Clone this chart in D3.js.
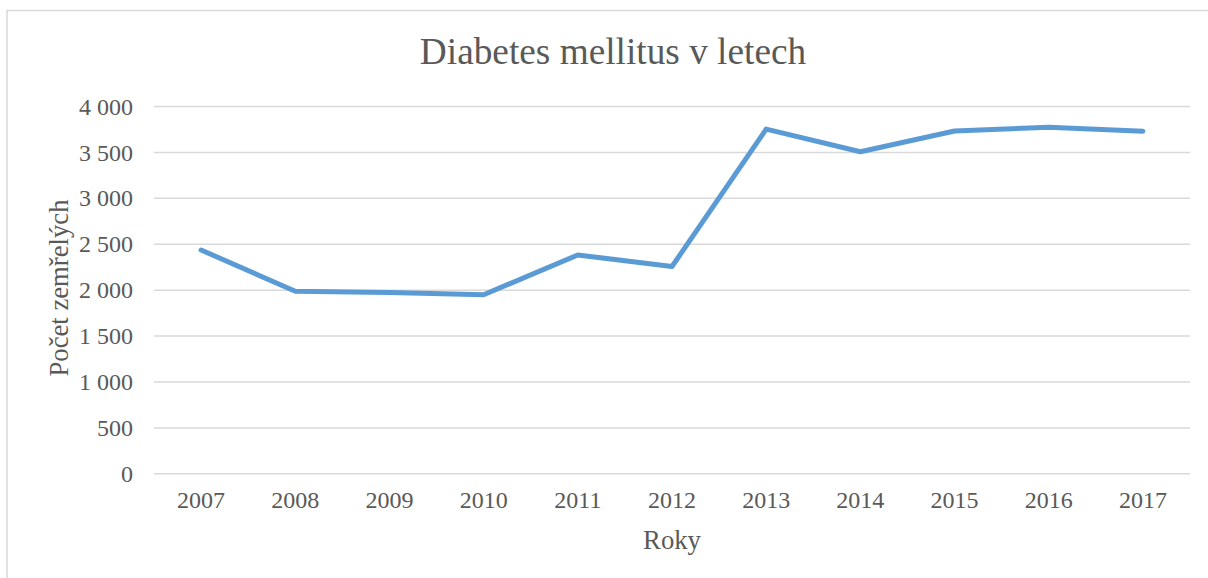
<!DOCTYPE html>
<html><head><meta charset="utf-8">
<script src="https://cdn.jsdelivr.net/npm/d3@7"></script>
<style>body{margin:0;background:#fff;} svg{display:block;} svg text{font-family:"Liberation Serif","Times New Roman",serif;}</style>
</head><body>
<svg id="c" width="1208" height="578"></svg>
<script>
const years = ["2007","2008","2009","2010","2011","2012","2013","2014","2015","2016","2017"];
const deaths = [2432, 1982, 1970, 1945, 2378, 2252, 3748, 3502, 3728, 3768, 3726];
const yTicks = [0, 500, 1000, 1500, 2000, 2500, 3000, 3500, 4000];
const title = "Diabetes mellitus v letech";
const xTitle = "Roky";
const yTitle = "Počet zemřelých";

const svg = d3.select("#c");
const W = 1208, H = 578;
const m = {left:154, right:1190, top:106, bottom:473.3};
const textColor = "#595959", gridColor = "#d9d9d9";
const serif = '"Liberation Serif","Times New Roman",serif';

svg.append("rect").attr("x",7).attr("y",10.5).attr("width",W+10).attr("height",H+10)
  .attr("fill","#fff").attr("stroke",gridColor).attr("stroke-width",1.5);

const x = d3.scaleBand().domain(years).range([m.left, m.right]);
const y = d3.scaleLinear().domain([0,4000]).range([m.bottom, m.top]);

const fmt = v => d3.format(",")(v).replace(/,/g, " ");

const yAxis = svg.append("g").attr("transform",`translate(${m.left},0)`)
  .call(d3.axisLeft(y).tickValues(yTicks).tickSize(-(m.right-m.left)).tickPadding(21).tickFormat(fmt))
  .attr("font-family", serif);
yAxis.select(".domain").remove();
yAxis.selectAll("line").attr("stroke",gridColor).attr("stroke-width",1.5);
yAxis.selectAll("text").attr("fill",textColor).style("font-size","24px").attr("dy","0.34em");

const xAxis = svg.append("g").attr("transform",`translate(0,${m.bottom})`)
  .call(d3.axisBottom(x).tickSize(0).tickPadding(18))
  .attr("font-family", serif);
xAxis.select(".domain").remove();
xAxis.selectAll("text").attr("fill",textColor).style("font-size","24px");

const line = d3.line().x((d,i)=>x(years[i])+x.bandwidth()/2).y(d=>y(d));
svg.append("path").datum(deaths).attr("d",line).attr("fill","none")
  .attr("stroke","#5b9bd5").attr("stroke-width",5).attr("stroke-linejoin","round").attr("stroke-linecap","round");

svg.append("text").attr("x",(m.left+m.right)/2 - 59).attr("y",64).attr("text-anchor","middle")
  .attr("fill",textColor).style("font-size","37.3px").text(title);
svg.append("text").attr("x",(m.left+m.right)/2).attr("y",549).attr("text-anchor","middle")
  .attr("fill",textColor).style("font-size","26.7px").text(xTitle);
svg.append("text").attr("transform",`translate(68,288) rotate(-90)`).attr("text-anchor","middle")
  .attr("fill",textColor).style("font-size","26.7px").text(yTitle);
</script>
</body></html>
